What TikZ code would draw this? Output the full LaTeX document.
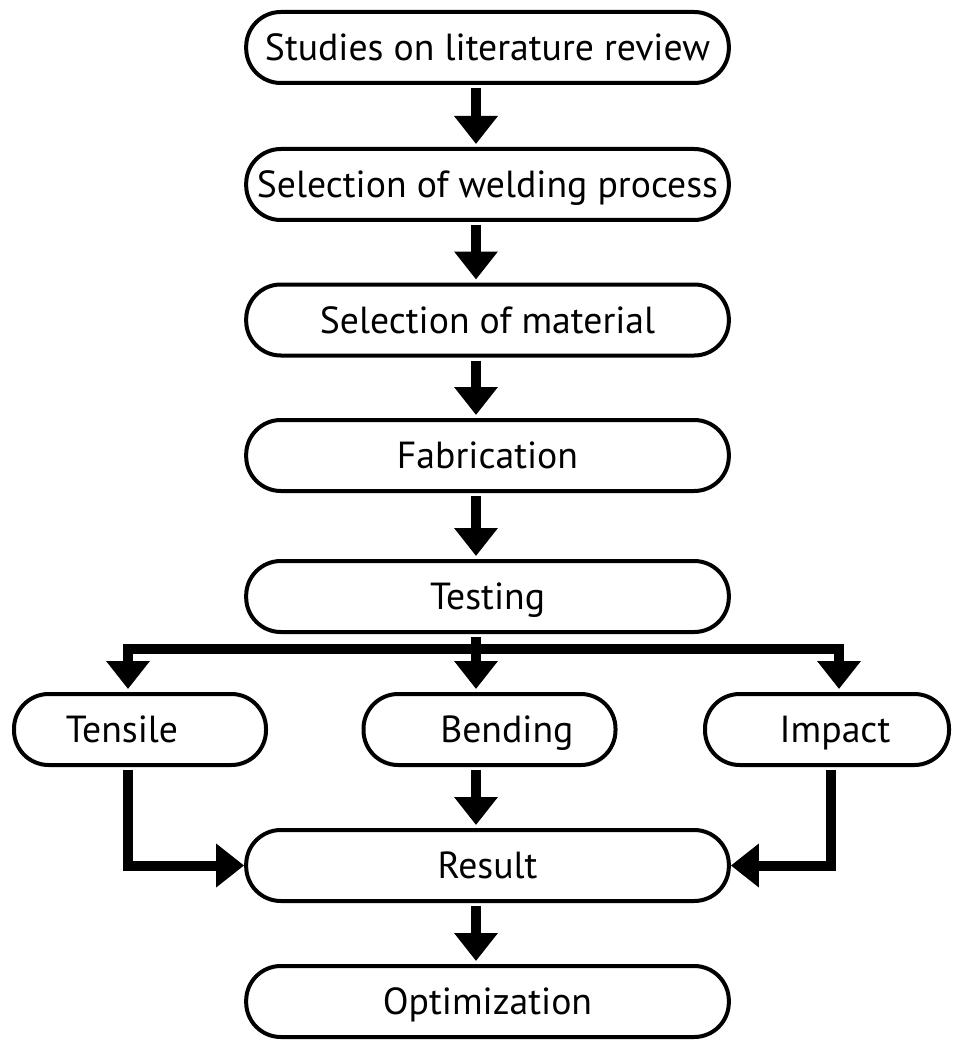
\documentclass[tikz,border=0pt]{standalone}
\usepackage{fontspec}
\setmainfont{PT Sans}
\usetikzlibrary{arrows.meta,calc}
\begin{document}
\begin{tikzpicture}[x=0.75pt,y=-0.75pt,
  box/.style={draw=black,line width=3pt,rounded corners=26pt,fill=white,
    minimum width=362pt,minimum height=53.25pt,inner sep=0pt,
    text height=19.8pt,text depth=0pt,
    font=\fontsize{28.3pt}{33pt}\selectfont},
  smallbox/.style={box,minimum width=189pt},
  conn/.style={line width=7.5pt,-{Triangle[length=21pt,width=31.5pt]},
    shorten <=2.25pt,shorten >=2.25pt},
  sideconn/.style={conn,shorten >=0pt}]
\useasboundingbox (0,0) rectangle (953,1041);
\node[box] (n1) at (487.5,47.5) {Studies on literature review};
\node[box] (n2) at (487.5,184.5) {Selection of welding process};
\node[box] (n3) at (487.5,320) {Selection of material};
\node[box] (n4) at (487.5,455.5) {Fabrication};
\node[box] (test) at (487.5,596.5) {Testing};
\node[smallbox] (tens) at (140,729.5) {Tensile\hspace*{27pt}};
\node[smallbox] (bend) at (489.5,729.5) {\hspace*{26pt}Bending};
\node[smallbox,minimum width=183pt] (imp) at (827,729.5) {\hspace*{12pt}Impact};
\node[box] (res) at (487.5,865.5) {Result};
\node[box] (opt) at (487.5,1001.5) {Optimization};
\coordinate (ax) at (476,0);
\coordinate (j) at (476,648.5);
\coordinate (tx) at (128,0);
\coordinate (ix) at (831,0);
\coordinate (lx) at (128,0);
\coordinate (rx) at (839,0);
\draw[conn] (n1.south -| ax) -- (n2.north -| ax);
\draw[conn] (n2.south -| ax) -- (n3.north -| ax);
\draw[conn] (n3.south -| ax) -- (n4.north -| ax);
\draw[conn] (n4.south -| ax) -- (test.north -| ax);
\draw[conn] (test.south -| ax) -- (bend.north -| ax);
\draw[conn,shorten <=0pt] (j) -| (tens.north -| lx);
\draw[conn,shorten <=0pt] (j) -| (imp.north -| rx);
\draw[conn] (bend.south -| ax) -- (res.north -| ax);
\draw[sideconn] (tens.south -| tx) |- (res.west);
\draw[sideconn] (imp.south -| ix) |- (res.east);
\draw[conn] (res.south -| ax) -- (opt.north -| ax);
\end{tikzpicture}
\end{document}
